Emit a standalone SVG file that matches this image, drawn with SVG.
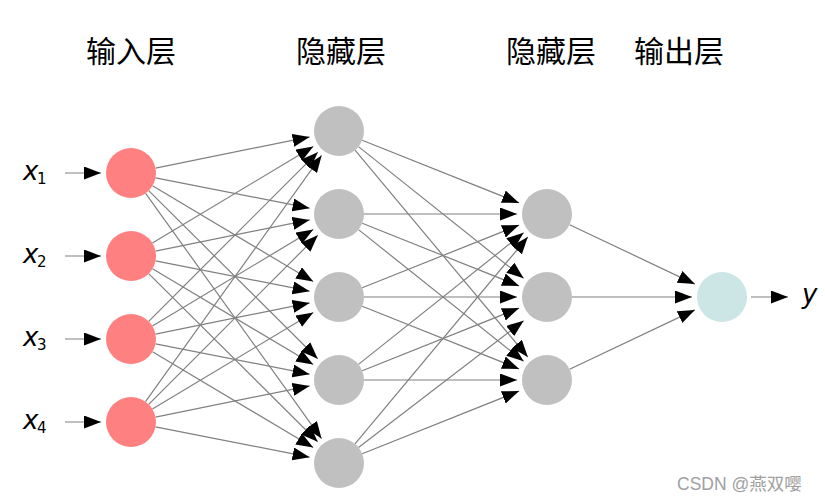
<svg xmlns="http://www.w3.org/2000/svg" width="825" height="503" viewBox="0 0 825 503">
<style>
.edge{stroke:#808080;stroke-width:1.2;fill:none;marker-end:url(#ah)}
.in{fill:#ff8080}
.hid{fill:#c0c0c0}
.out{fill:#cce6e5}
.title{font-family:"Noto Sans CJK SC","Noto Sans CJK JP",sans-serif;font-size:30px;fill:#000;text-anchor:middle}
.var{font-family:"DejaVu Sans",sans-serif;font-style:italic;font-size:26px;fill:#000}
.sub{font-family:"DejaVu Sans",sans-serif;font-size:15px;fill:#000}
.wm{font-family:"Liberation Sans","Noto Sans CJK SC",sans-serif;font-size:17.5px;fill:#a0a0a0}
</style>
<defs>
<marker id="ah" markerUnits="userSpaceOnUse" markerWidth="18" markerHeight="14" refX="17" refY="6.5" orient="auto">
<path d="M0,0 L17,6.5 L0,13 z" fill="#000"/>
</marker>
</defs>
<rect width="825" height="503" fill="#fff"/>
<g id="titles">
<text class="title" x="131" y="62">输入层</text>
<text class="title" x="341" y="62">隐藏层</text>
<text class="title" x="551" y="62">隐藏层</text>
<text class="title" x="679" y="62">输出层</text>
</g>
<g id="connectors">
<line class="edge" x1="65" y1="173" x2="101" y2="173"/>
<line class="edge" x1="65" y1="256" x2="101" y2="256"/>
<line class="edge" x1="65" y1="339" x2="101" y2="339"/>
<line class="edge" x1="65" y1="422" x2="101" y2="422"/>
<line class="edge" x1="155.5" y1="168.05" x2="309.6" y2="136.9"/>
<line class="edge" x1="155.5" y1="177.8" x2="309.6" y2="208.2"/>
<line class="edge" x1="152.5" y1="185.8" x2="313.2" y2="281.6"/>
<line class="edge" x1="148.7" y1="190.6" x2="317.7" y2="358.8"/>
<line class="edge" x1="145.6" y1="193.3" x2="321.5" y2="438.6"/>
<line class="edge" x1="152.4" y1="243.1" x2="313.3" y2="146.5"/>
<line class="edge" x1="155.5" y1="251.05" x2="309.6" y2="219.9"/>
<line class="edge" x1="155.5" y1="260.8" x2="309.6" y2="291.2"/>
<line class="edge" x1="152.5" y1="268.8" x2="313.2" y2="364.6"/>
<line class="edge" x1="148.7" y1="273.6" x2="317.7" y2="441.8"/>
<line class="edge" x1="148.7" y1="321.3" x2="317.8" y2="152.2"/>
<line class="edge" x1="152.4" y1="326.1" x2="313.3" y2="229.5"/>
<line class="edge" x1="155.5" y1="334.05" x2="309.6" y2="302.9"/>
<line class="edge" x1="155.5" y1="343.8" x2="309.6" y2="374.2"/>
<line class="edge" x1="152.5" y1="351.8" x2="313.2" y2="447.6"/>
<line class="edge" x1="145.5" y1="401.7" x2="321.6" y2="155.4"/>
<line class="edge" x1="148.7" y1="404.3" x2="317.8" y2="235.2"/>
<line class="edge" x1="152.4" y1="409.1" x2="313.3" y2="312.5"/>
<line class="edge" x1="155.5" y1="417.05" x2="309.6" y2="385.9"/>
<line class="edge" x1="155.5" y1="426.8" x2="309.6" y2="457.2"/>
<line class="edge" x1="362.2" y1="140.3" x2="519.1" y2="202.9"/>
<line class="edge" x1="358.5" y1="146.6" x2="523.6" y2="278.3"/>
<line class="edge" x1="355" y1="150.2" x2="527.8" y2="357"/>
<line class="edge" x1="364" y1="214" x2="517" y2="214"/>
<line class="edge" x1="362.2" y1="223.3" x2="519.1" y2="285.9"/>
<line class="edge" x1="358.5" y1="229.6" x2="523.6" y2="361.3"/>
<line class="edge" x1="362.2" y1="287.7" x2="519.1" y2="225.1"/>
<line class="edge" x1="364" y1="297" x2="517" y2="297"/>
<line class="edge" x1="362.2" y1="306.3" x2="519.1" y2="368.9"/>
<line class="edge" x1="358.5" y1="364.4" x2="523.6" y2="232.7"/>
<line class="edge" x1="362.2" y1="370.7" x2="519.1" y2="308.1"/>
<line class="edge" x1="364" y1="380" x2="517" y2="380"/>
<line class="edge" x1="355" y1="443.8" x2="527.8" y2="237"/>
<line class="edge" x1="358.5" y1="447.4" x2="523.6" y2="320.7"/>
<line class="edge" x1="362.2" y1="453.7" x2="519.1" y2="391.1"/>
<line class="edge" x1="569.6" y1="224.7" x2="694.9" y2="284.1"/>
<line class="edge" x1="572" y1="297" x2="692" y2="297"/>
<line class="edge" x1="569.6" y1="369.3" x2="694.9" y2="309.9"/>
<line class="edge" x1="751" y1="297" x2="788" y2="297"/>
</g>
<g id="input-labels">
<text class="var" x="23" y="180">x</text><text class="sub" x="37" y="184">1</text>
<text class="var" x="23" y="263">x</text><text class="sub" x="37" y="267">2</text>
<text class="var" x="23" y="346">x</text><text class="sub" x="37" y="350">3</text>
<text class="var" x="23" y="429">x</text><text class="sub" x="37" y="433">4</text>
</g>
<g id="in1"><circle class="in" cx="131" cy="173" r="25"/></g>
<g id="in2"><circle class="in" cx="131" cy="256" r="25"/></g>
<g id="in3"><circle class="in" cx="131" cy="339" r="25"/></g>
<g id="in4"><circle class="in" cx="131" cy="422" r="25"/></g>
<g id="h1a"><circle class="hid" cx="339" cy="131" r="25"/></g>
<g id="h1b"><circle class="hid" cx="339" cy="214" r="25"/></g>
<g id="h1c"><circle class="hid" cx="339" cy="297" r="25"/></g>
<g id="h1d"><circle class="hid" cx="339" cy="380" r="25"/></g>
<g id="h1e"><circle class="hid" cx="339" cy="463" r="25"/></g>
<g id="h2a"><circle class="hid" cx="547" cy="214" r="25"/></g>
<g id="h2b"><circle class="hid" cx="547" cy="297" r="25"/></g>
<g id="h2c"><circle class="hid" cx="547" cy="380" r="25"/></g>
<g id="out"><circle class="out" cx="722" cy="297" r="25"/></g>
<g id="output-label"><text class="var" x="802" y="303">y</text></g>
<g id="watermark"><text class="wm" x="677" y="490">CSDN @燕双嘤</text></g>
</svg>
